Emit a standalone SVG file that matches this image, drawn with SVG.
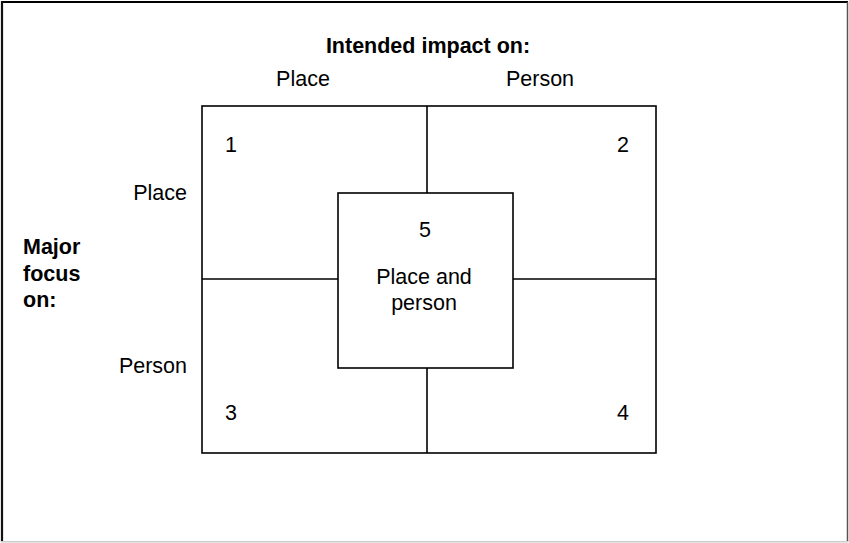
<svg xmlns="http://www.w3.org/2000/svg" width="849" height="543" viewBox="0 0 849 543">
<style>
.box{fill:#fff;stroke:#000;stroke-width:1.6}
.ln{stroke:#000;stroke-width:1.6;fill:none}
.t{font-family:"Liberation Sans",Arial,sans-serif;font-size:21.5px;fill:#000}
.b{font-weight:bold}
.m{text-anchor:middle}
.e{text-anchor:end}
</style>
<rect x="0" y="0" width="849" height="543" fill="#fff"/>
<g id="frame">
<line x1="1" y1="2" x2="848" y2="2" stroke="#000" stroke-width="2.2"/>
<line x1="2" y1="1" x2="2" y2="542" stroke="#111" stroke-width="2.2"/>
<line x1="847.5" y1="2" x2="847.5" y2="542" stroke="#555" stroke-width="1.5"/>
<line x1="1" y1="541.8" x2="848" y2="541.8" stroke="#ccc" stroke-width="1.5"/>
</g>
<g id="grid">
<rect class="box" x="202" y="106" width="454" height="347"/>
</g>
<g id="connectors">
<line class="ln" x1="427" y1="106" x2="427" y2="193"/>
<line class="ln" x1="427" y1="368" x2="427" y2="453"/>
<line class="ln" x1="202" y1="279" x2="338" y2="279"/>
<line class="ln" x1="513" y1="279" x2="656" y2="279"/>
</g>
<g id="center-box">
<rect class="box" x="338" y="193" width="175" height="175"/>
<text class="t m" x="425" y="237">5</text>
<text class="t m" x="424" y="284">Place and</text>
<text class="t m" x="424" y="310">person</text>
</g>
<g id="header">
<text class="t b m" x="428" y="53">Intended impact on:</text>
<text class="t m" x="303" y="86">Place</text>
<text class="t m" x="540" y="86">Person</text>
</g>
<g id="side">
<text class="t b" x="23" y="254">Major</text>
<text class="t b" x="23" y="281">focus</text>
<text class="t b" x="23" y="307">on:</text>
<text class="t e" x="187" y="200">Place</text>
<text class="t e" x="187" y="373">Person</text>
</g>
<g id="q1"><text class="t" x="225" y="152">1</text></g>
<g id="q2"><text class="t" x="617" y="152">2</text></g>
<g id="q3"><text class="t" x="225" y="420">3</text></g>
<g id="q4"><text class="t" x="617" y="420">4</text></g>
</svg>
